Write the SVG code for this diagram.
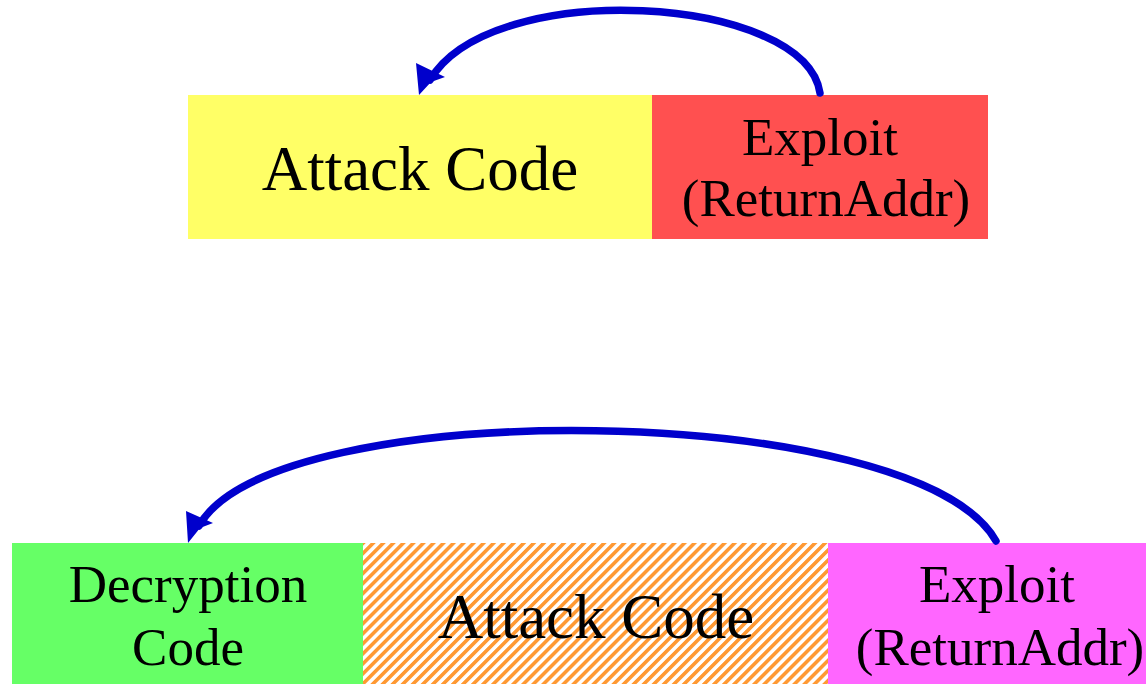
<svg xmlns="http://www.w3.org/2000/svg" width="1146" height="684" viewBox="0 0 1146 684">
  <style>
    .lbl { font-family: "Liberation Serif", "Times New Roman", serif; fill: #000; text-anchor: middle; }
    .big { font-size: 63px; }
    .mid { font-size: 53px; }
    .link { fill: none; stroke: #0000CC; stroke-width: 7.5; stroke-linecap: round; }
    .head { fill: #0000CC; }
  </style>
  <defs>
    <pattern id="hatch" patternUnits="userSpaceOnUse" width="7.1" height="7.1" patternTransform="rotate(45)">
      <rect width="7.1" height="7.1" fill="#FFFFFF"/>
      <rect width="3.6" height="7.1" fill="#FF9933"/>
    </pattern>
  </defs>

  <!-- upper buffer -->
  <g id="attack-code-top">
    <rect x="188" y="95" width="464" height="144" fill="#FFFF66"/>
    <text class="lbl big" x="420" y="190">Attack Code</text>
  </g>
  <g id="exploit-top">
    <rect x="652" y="95" width="336" height="144" fill="#FF5050"/>
    <text class="lbl mid" x="820" y="155">Exploit</text>
    <text class="lbl mid" x="826" y="216">(ReturnAddr)</text>
  </g>

  <!-- lower buffer -->
  <g id="decryption-code">
    <rect x="12" y="543" width="351" height="141" fill="#66FF66"/>
    <text class="lbl mid" x="188" y="602">Decryption</text>
    <text class="lbl mid" x="188" y="665">Code</text>
  </g>
  <g id="attack-code-bottom">
    <rect x="363" y="543" width="465" height="141" fill="url(#hatch)"/>
    <text class="lbl big" x="596" y="638">Attack Code</text>
  </g>
  <g id="exploit-bottom">
    <rect x="828" y="543" width="318" height="141" fill="#FF66FF"/>
    <text class="lbl mid" x="997" y="602">Exploit</text>
    <text class="lbl mid" x="1000" y="665">(ReturnAddr)</text>
  </g>

  <g id="connectors">
    <path class="link" d="M820,93 C805,-5 492,-24 430,80"/>
    <path class="head" d="M419,95 L416,63 L445,77 L431,82 Z"/>
    <path class="link" d="M996,541 C917,400 272,393 199,526"/>
    <path class="head" d="M188,543 L186,511 L213,523 L200,528 Z"/>
  </g>
</svg>
